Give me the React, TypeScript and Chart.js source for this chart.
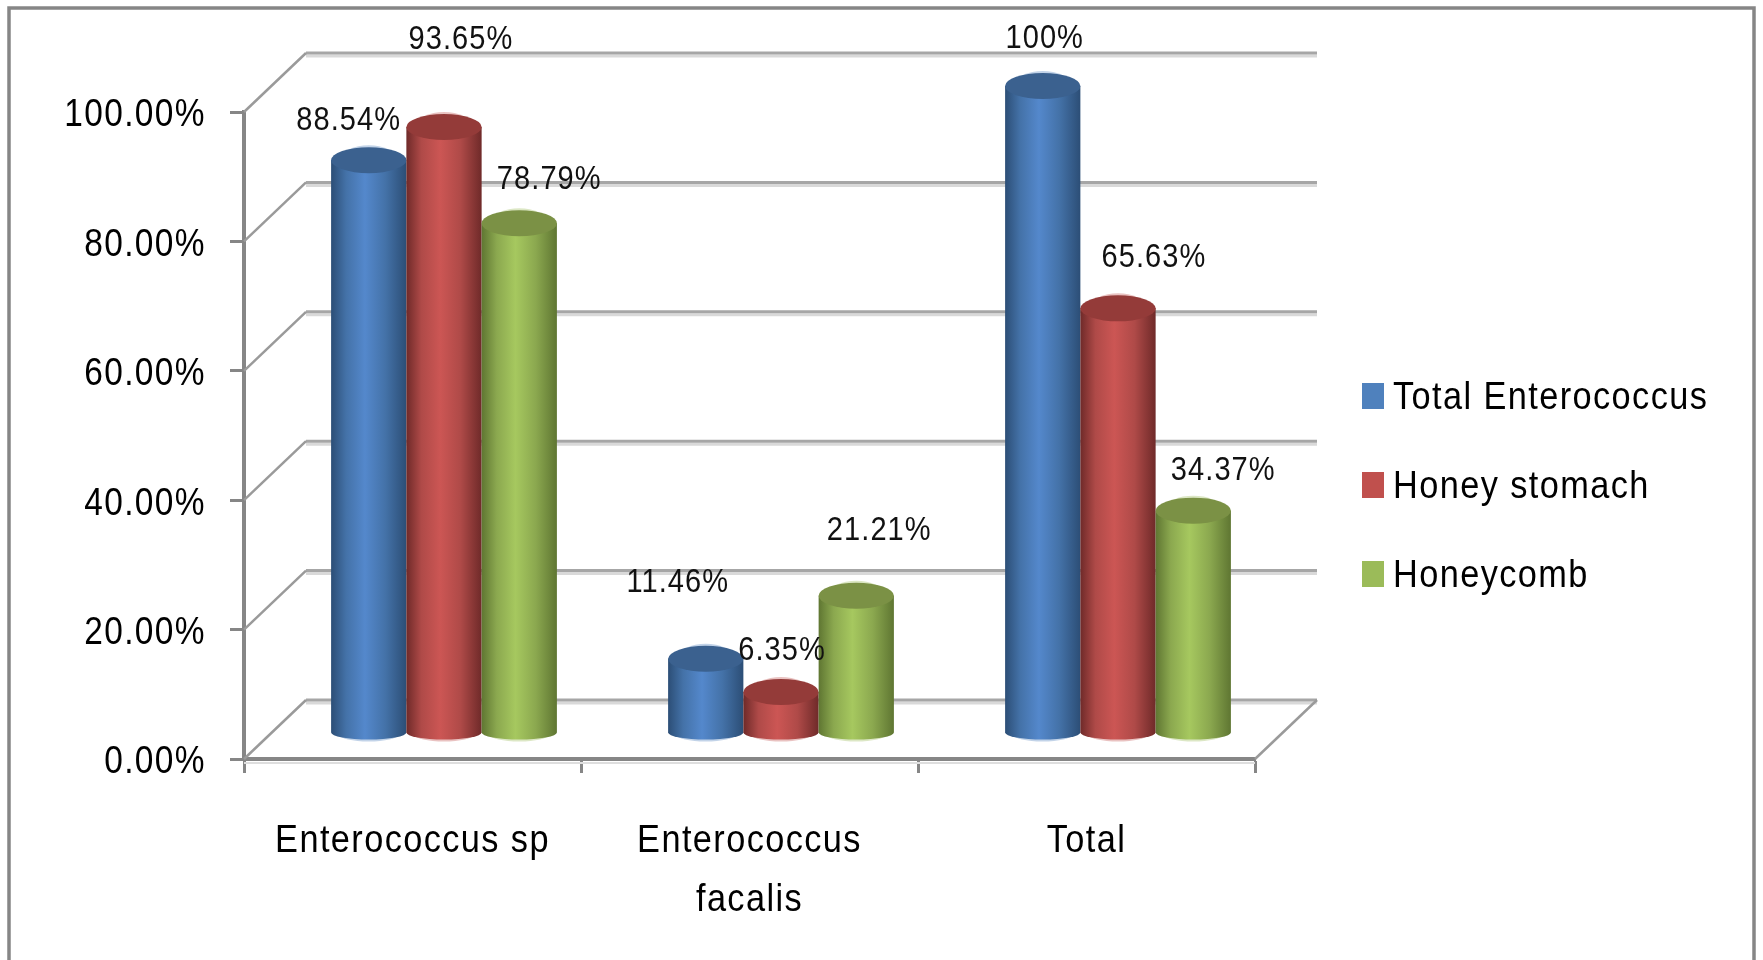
import React, { useEffect, useRef } from "react";
import { Chart, registerables } from "chart.js";

Chart.register(...registerables);

const categories = [["Enterococcus sp"], ["Enterococcus", "facalis"], ["Total"]];
const seriesNames = ["Total Enterococcus", "Honey stomach", "Honeycomb"];
const totalEnterococcus = [88.54, 11.46, 100];
const honeyStomach = [93.65, 6.35, 65.63];
const honeycomb = [78.79, 21.21, 34.37];
const valueTicks = [0, 20, 40, 60, 80, 100];

// Colours per series: legend swatch, cylinder edge, cylinder mid, cylinder highlight, cap.
const palette = [
  { swatch: "#4F81BD", edge: "#2C4E76", mid: "#4472A8", light: "#5488CC", cap: "#3B618F" },
  { swatch: "#C0504D", edge: "#6F2A29", mid: "#AF4A48", light: "#CC5654", cap: "#943B39" },
  { swatch: "#9BBB59", edge: "#5F7632", mid: "#8BA84F", light: "#A6C85F", cap: "#7B9145" },
];

// Nudges of each value label from its cylinder top, one row per series.
const labelNudges = [
  [[-20, -39], [-28, -76], [2, -47]],
  [[17, -87], [1, -41], [36, -50]],
  [[30, -43], [23, -65], [30, -40]],
];

const FONT = '"Liberation Sans", sans-serif';
const TRACKING = "1.6px";
const TEXT_SQUEEZE = 0.88;
const AXIS_GREY = "#868686";

// The bars stand inside the 3D box, so they sit part-way between front axes and back wall.
const BAR_SHIFT_X = 31.5;
const BAR_SHIFT_Y = -26;
const WALL_DX = 62;
const WALL_DY = -59;
const CAP_RY = 13;
const FOOT_RY = 7;

// All text on this canvas is set horizontally condensed around its anchor.
function condenseText(ctx: CanvasRenderingContext2D) {
  const fill = ctx.fillText.bind(ctx);
  ctx.fillText = (text: string, x: number, y: number, maxWidth?: number) => {
    ctx.save();
    ctx.translate(x, y);
    ctx.scale(TEXT_SQUEEZE, 1);
    if (maxWidth === undefined) fill(text, 0, 0);
    else fill(text, 0, 0, maxWidth / TEXT_SQUEEZE);
    ctx.restore();
  };
}

function cylinder(ctx: CanvasRenderingContext2D, bar: any, colours: typeof palette[0]) {
  const x = bar.x + BAR_SHIFT_X;
  const top = bar.y + BAR_SHIFT_Y;
  const foot = bar.base + BAR_SHIFT_Y;
  const rx = bar.width / 2;

  // Faint rims just outside the cap and the foot.
  ctx.save();
  ctx.globalAlpha = 0.35;
  ctx.fillStyle = colours.swatch;
  ctx.beginPath();
  ctx.ellipse(x, top - 2, rx * 0.72, CAP_RY, 0, 0, Math.PI * 2);
  ctx.fill();
  ctx.beginPath();
  ctx.ellipse(x, foot + 2, rx * 0.78, FOOT_RY, 0, 0, Math.PI * 2);
  ctx.fill();
  ctx.restore();

  const g = ctx.createLinearGradient(x - rx, 0, x + rx, 0);
  g.addColorStop(0, colours.edge);
  g.addColorStop(0.2, colours.mid);
  g.addColorStop(0.45, colours.light);
  g.addColorStop(0.72, colours.mid);
  g.addColorStop(1, colours.edge);
  ctx.beginPath();
  ctx.moveTo(x - rx, top);
  ctx.lineTo(x - rx, foot);
  ctx.ellipse(x, foot, rx, FOOT_RY, 0, Math.PI, 0, true);
  ctx.lineTo(x + rx, top);
  ctx.closePath();
  ctx.fillStyle = g;
  ctx.fill();
  ctx.beginPath();
  ctx.ellipse(x, top, rx, CAP_RY, 0, 0, Math.PI * 2);
  ctx.fillStyle = colours.cap;
  ctx.fill();
}

const boxPlugin = {
  id: "box3d",
  beforeDraw(chart: any) {
    const { ctx, width, height } = chart;
    (ctx as any).letterSpacing = TRACKING;
    // Outer chart frame, open at the foot of the canvas.
    ctx.save();
    ctx.strokeStyle = AXIS_GREY;
    ctx.lineWidth = 3.5;
    ctx.beginPath();
    ctx.moveTo(9, height);
    ctx.lineTo(9, 8);
    ctx.lineTo(width - 9, 8);
    ctx.lineTo(width - 9, height);
    ctx.stroke();
    ctx.restore();
  },
  beforeDatasetsDraw(chart: any) {
    const { ctx, chartArea, scales } = chart;
    const y = scales.y;
    ctx.save();
    for (const v of valueTicks) {
      const py = y.getPixelForValue(v);
      const backLeft = chartArea.left + WALL_DX;
      const backRight = chartArea.right + WALL_DX;
      const backY = py + WALL_DY;
      ctx.strokeStyle = "#D9D9D9";
      ctx.lineWidth = 3;
      ctx.beginPath();
      ctx.moveTo(backLeft, backY + 3);
      ctx.lineTo(backRight, backY + 3);
      ctx.stroke();
      ctx.strokeStyle = "#A6A6A6";
      ctx.lineWidth = 3;
      ctx.beginPath();
      ctx.moveTo(backLeft, backY);
      ctx.lineTo(backRight, backY);
      ctx.stroke();
      ctx.strokeStyle = "#9A9A9A";
      ctx.lineWidth = 2.5;
      ctx.beginPath();
      ctx.moveTo(chartArea.left, py);
      ctx.lineTo(backLeft, backY);
      ctx.stroke();
    }
    // Floor edge on the right side of the box and the soft line beneath the x axis.
    ctx.beginPath();
    ctx.moveTo(chartArea.right, chartArea.bottom);
    ctx.lineTo(chartArea.right + WALL_DX, chartArea.bottom + WALL_DY);
    ctx.stroke();
    ctx.strokeStyle = "#DEDEDE";
    ctx.lineWidth = 2;
    ctx.beginPath();
    ctx.moveTo(chartArea.left, chartArea.bottom + 4);
    ctx.lineTo(chartArea.right, chartArea.bottom + 4);
    ctx.stroke();

    // Cylinders go down in series order so each one overlaps the one before it.
    chart.data.datasets.forEach((_: any, s: number) => {
      chart.getDatasetMeta(s).data.forEach((bar: any) => cylinder(ctx, bar, palette[s]));
    });
    ctx.restore();
  },
  // The cylinders above replace the flat rectangles.
  beforeDatasetDraw() {
    return false;
  },
  afterDatasetsDraw(chart: any) {
    const { ctx } = chart;
    ctx.save();
    (ctx as any).letterSpacing = "1.2px";
    ctx.font = `33px ${FONT}`;
    ctx.fillStyle = "#111";
    ctx.textAlign = "center";
    ctx.textBaseline = "middle";
    chart.data.datasets.forEach((ds: any, s: number) => {
      chart.getDatasetMeta(s).data.forEach((bar: any, i: number) => {
        const [nx, ny] = labelNudges[s][i];
        ctx.fillText(`${ds.data[i]}%`, bar.x + BAR_SHIFT_X + nx, bar.y + BAR_SHIFT_Y + ny);
      });
    });

    // Legend column to the right of the box.
    (ctx as any).letterSpacing = TRACKING;
    ctx.font = `39px ${FONT}`;
    ctx.textAlign = "left";
    seriesNames.forEach((name, s) => {
      const cy = 396 + s * 89;
      ctx.fillStyle = palette[s].swatch;
      ctx.fillRect(1362, cy - 13, 22, 26);
      ctx.fillStyle = "#000";
      ctx.fillText(name, 1393, cy + 2);
    });
    ctx.restore();
  },
};

export default function App() {
  const canvasRef = useRef<HTMLCanvasElement | null>(null);

  useEffect(() => {
    const canvas = canvasRef.current as HTMLCanvasElement;
    condenseText(canvas.getContext("2d") as CanvasRenderingContext2D);
    const series = [totalEnterococcus, honeyStomach, honeycomb];
    const chart = new Chart(canvas, {
      type: "bar",
      data: {
        labels: categories,
        datasets: series.map((data, s) => ({
          label: seriesNames[s],
          data,
          backgroundColor: palette[s].swatch,
          categoryPercentage: 0.67,
          barPercentage: 1,
        })),
      },
      options: {
        animation: false,
        responsive: false,
        layout: { padding: { top: 112, right: 508, left: 0, bottom: 0 } },
        plugins: { legend: { display: false }, tooltip: { enabled: false }, title: { display: false } },
        scales: {
          x: {
            afterFit: (scale: any) => {
              scale.height = 201;
            },
            border: { color: AXIS_GREY, width: 4 },
            grid: { drawOnChartArea: false, drawTicks: true, tickLength: 14, tickColor: AXIS_GREY, tickWidth: 3 },
            ticks: {
              padding: 39,
              maxRotation: 0,
              autoSkip: false,
              color: "#000",
              font: { family: FONT, size: 39, lineHeight: 1.5 },
            },
          },
          y: {
            min: 0,
            max: 100,
            afterFit: (scale: any) => {
              scale.width = 244;
            },
            afterBuildTicks: (scale: any) => {
              scale.ticks = valueTicks.map((value) => ({ value }));
            },
            border: { color: AXIS_GREY, width: 4 },
            grid: { drawOnChartArea: false, drawTicks: true, tickLength: 14, tickColor: AXIS_GREY, tickWidth: 3 },
            ticks: {
              padding: 24,
              labelOffset: 4,
              color: "#000",
              font: { family: FONT, size: 38 },
              callback: (v: any) => `${Number(v).toFixed(2)}%`,
            },
          },
        },
      },
      plugins: [boxPlugin],
    } as any);
    return () => chart.destroy();
  }, []);

  return (
    <canvas
      ref={canvasRef}
      width={1763}
      height={960}
      style={{ position: "fixed", left: 0, top: 0, display: "block", background: "#fff" }}
    />
  );
}
